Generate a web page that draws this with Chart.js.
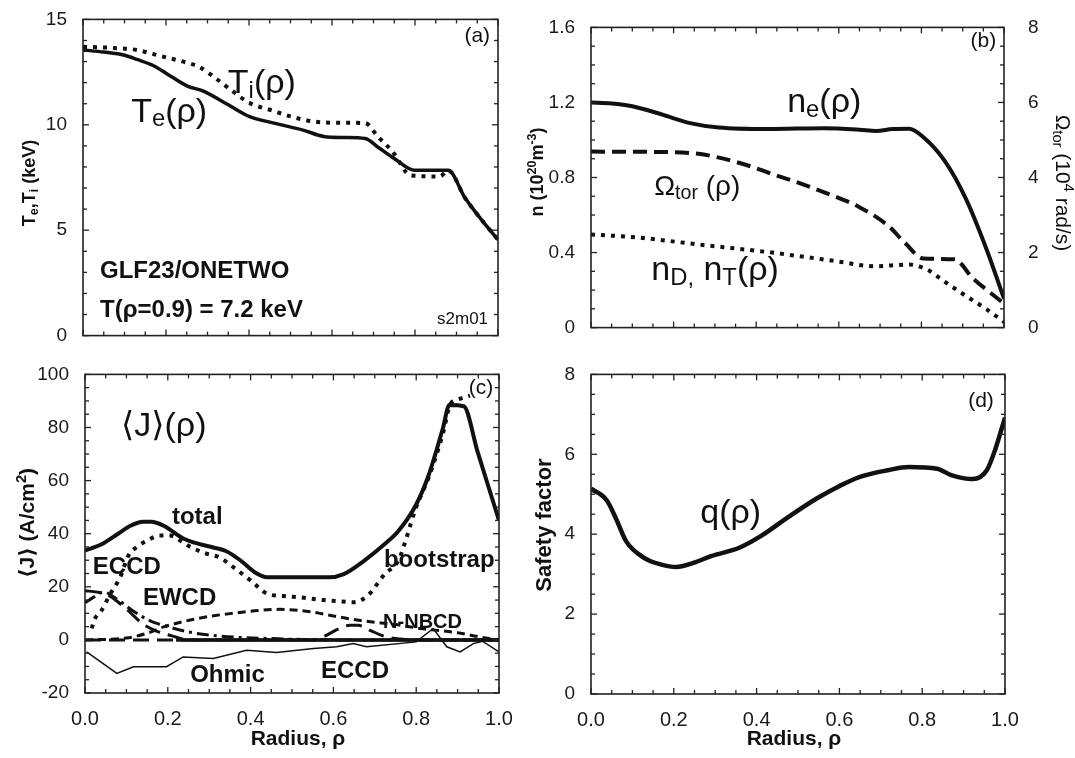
<!DOCTYPE html>
<html>
<head>
<meta charset="utf-8">
<script src="https://cdn.jsdelivr.net/npm/chart.js@4.4.1/dist/chart.umd.min.js"></script>
<style>
  html, body { margin: 0; padding: 0; background: #fff; }
  #wrap { position: relative; width: 1075px; height: 758px; overflow: hidden; }
  #wrap canvas { position: absolute; }
</style>
</head>
<body>
<div id="wrap">
  <canvas id="pa" width="520" height="355" style="left:0;top:0"></canvas>
  <canvas id="pb" width="555" height="355" style="left:520px;top:0"></canvas>
  <canvas id="pc" width="520" height="403" style="left:0;top:355px"></canvas>
  <canvas id="pd" width="555" height="403" style="left:520px;top:355px"></canvas>
</div>
<script>
const FONT = '"Liberation Sans", Arial, Helvetica, "DejaVu Sans", sans-serif';
const INK = '#111';

// (a) electron / ion temperature, keV
const rhoTe = [0, 0.05, 0.1, 0.13, 0.17, 0.2, 0.25, 0.29, 0.35, 0.4, 0.46, 0.53, 0.58, 0.63, 0.68, 0.71, 0.75, 0.8, 0.88, 0.92, 0.96, 1.0];
const te    = [13.55, 13.45, 13.3, 13.1, 12.8, 12.45, 11.85, 11.6, 10.95, 10.4, 10.08, 9.75, 9.45, 9.4, 9.35, 8.95, 8.4, 7.84, 7.84, 6.55, 5.5, 4.55];
const rhoTi = [0, 0.07, 0.13, 0.17, 0.21, 0.25, 0.28, 0.32, 0.36, 0.4, 0.46, 0.5, 0.55, 0.6, 0.68, 0.71, 0.745, 0.79, 0.86, 0.88, 0.92, 0.96, 1.0];
const ti    = [13.7, 13.65, 13.55, 13.35, 13.15, 12.95, 12.75, 12.2, 11.6, 11.05, 10.65, 10.4, 10.17, 10.1, 10.08, 9.45, 8.75, 7.6, 7.55, 7.84, 6.55, 5.5, 4.55];

// (b) densities (1e20 m^-3) and toroidal rotation (1e4 rad/s)
const rhoNe = [0, 0.05, 0.1, 0.17, 0.24, 0.31, 0.43, 0.565, 0.65, 0.69, 0.73, 0.77, 0.805, 0.856, 0.907, 0.959, 1.0];
const ne    = [1.2, 1.195, 1.18, 1.137, 1.09, 1.066, 1.058, 1.063, 1.055, 1.048, 1.058, 1.06, 1.015, 0.89, 0.69, 0.41, 0.154];
const rhoOm = [0, 0.17, 0.26, 0.31, 0.38, 0.445, 0.51, 0.58, 0.65, 0.72, 0.76, 0.805, 0.88, 0.925, 0.967, 1.0];
const omega = [4.69, 4.68, 4.63, 4.53, 4.32, 4.07, 3.83, 3.54, 3.21, 2.71, 2.26, 1.84, 1.82, 1.31, 0.93, 0.64];
const rhoNd = [0, 0.11, 0.26, 0.43, 0.6, 0.685, 0.77, 0.813, 0.856, 0.907, 0.959, 1.0];
const nd    = [0.496, 0.481, 0.443, 0.402, 0.352, 0.327, 0.336, 0.31, 0.245, 0.17, 0.096, 0.03];

// (c) current density components, A/cm^2
const rhoTot = [0, 0.04, 0.08, 0.11, 0.14, 0.16, 0.19, 0.24, 0.31, 0.34, 0.375, 0.41, 0.44, 0.54, 0.59, 0.625, 0.674, 0.724, 0.757, 0.8, 0.83, 0.865, 0.88, 0.915, 0.948, 1.0];
const jTot   = [33.6, 36, 40, 43, 44.5, 44.5, 43, 38, 34.8, 33.5, 30, 25.5, 23.6, 23.6, 23.6, 24.8, 29.8, 36.1, 41, 51, 62, 80, 88.5, 88, 71, 45];
const rhoBs  = [0.016, 0.024, 0.04, 0.06, 0.085, 0.105, 0.125, 0.15, 0.18, 0.205, 0.23, 0.255, 0.295, 0.326, 0.358, 0.4, 0.44, 0.48, 0.52, 0.575, 0.62, 0.65, 0.683, 0.724, 0.757, 0.8, 0.832, 0.865, 0.882, 0.9, 0.93];
const jBs    = [4.3, 8, 11.1, 17, 23.6, 31.8, 35, 37.4, 39.3, 39.3, 37.4, 35, 32.4, 31, 27.4, 22.4, 17.4, 16.5, 16, 15, 14.5, 14.2, 16.7, 24.8, 30, 50, 62, 78, 88.7, 90.5, 92];
const rhoEcA = [0, 0.03, 0.06, 0.1, 0.14, 0.17, 0.21, 0.25, 1.0];
const jEcA   = [18.5, 18, 16.5, 11.6, 6, 3.5, 1.5, 0, 0];
const rhoEw  = [0, 0.02, 0.045, 0.08, 0.12, 0.16, 0.2, 0.25, 0.32, 0.45, 0.6, 1.0];
const jEw    = [14, 16, 18, 15, 10.5, 7, 5, 3, 1.5, 0.5, 0, 0];
const rhoEcB = [0, 0.55, 0.58, 0.61, 0.64, 0.66, 0.69, 0.72, 0.76, 0.8, 1.0];
const jEcB   = [0, 0, 1.5, 4, 5.5, 5.5, 3.5, 1.5, 0.3, 0, 0];
const rhoNb  = [0, 0.1, 0.15, 0.19, 0.27, 0.35, 0.47, 0.55, 0.6, 0.68, 0.75, 0.81, 0.9, 0.95, 1.0];
const jNb    = [0, 0.7, 2.5, 4.9, 8, 9.9, 11.5, 10.5, 9, 7, 5.8, 4.3, 2.7, 1.2, 0];
const rhoOh  = [0.004, 0.077, 0.117, 0.197, 0.237, 0.31, 0.39, 0.463, 0.552, 0.608, 0.648, 0.68, 0.8, 0.841, 0.874, 0.906, 0.938, 0.96, 1.0];
const jOh    = [-4.5, -12.6, -10.1, -10.1, -6.4, -7, -3.9, -4.7, -3.2, -2.6, -1.4, -2.6, -0.75, 4.3, -2.6, -4.5, -1.4, -0.5, -4.5];
const rhoZero = [0.22, 1.0];
const jZero   = [0, 0];

// (d) safety factor
const rhoQ = [0, 0.038, 0.06, 0.085, 0.128, 0.17, 0.205, 0.247, 0.29, 0.358, 0.41, 0.478, 0.546, 0.597, 0.648, 0.717, 0.768, 0.836, 0.87, 0.922, 0.956, 0.977, 1.0];
const q    = [5.14, 4.85, 4.4, 3.82, 3.41, 3.24, 3.18, 3.28, 3.45, 3.66, 3.95, 4.44, 4.9, 5.19, 5.43, 5.6, 5.68, 5.64, 5.48, 5.38, 5.6, 6.14, 6.92];

const pts = (xs, ys) => xs.map((x, i) => ({ x: x, y: ys[i] }));

function line(xs, ys, width, dash, extra) {
  return Object.assign({
    data: pts(xs, ys),
    borderColor: INK,
    borderWidth: width,
    borderDash: dash || [],
    pointRadius: 0,
    fill: false,
    cubicInterpolationMode: 'monotone'
  }, extra || {});
}

// text with sub (1) / superscript (-1) pieces
function drawRich(ctx, parts, x, y, size, weight, align) {
  const fontFor = s => weight + ' ' + s + 'px ' + FONT;
  let total = 0;
  parts.forEach(([t, s]) => {
    ctx.font = fontFor(s ? size * 0.7 : size);
    total += ctx.measureText(t).width;
  });
  let cx = align === 'center' ? x - total / 2 : align === 'right' ? x - total : x;
  parts.forEach(([t, s]) => {
    ctx.font = fontFor(s ? size * 0.7 : size);
    const dy = s === 1 ? size * 0.14 : s === -1 ? -size * 0.4 : 0;
    ctx.fillText(t, cx, y + dy);
    cx += ctx.measureText(t).width;
  });
}

function eachTick(min, max, minor, major, fn) {
  const n = Math.round((max - min) / minor);
  for (let i = 0; i <= n; i++) {
    const v = min + i * minor;
    const r = v / major;
    fn(v, Math.abs(r - Math.round(r)) < 1e-6);
  }
}

function seg(ctx, x1, y1, x2, y2) {
  ctx.beginPath(); ctx.moveTo(x1, y1); ctx.lineTo(x2, y2); ctx.stroke();
}

// frame, inward ticks on all four sides, in-plot notes and axis titles
const decor = {
  id: 'decor',
  afterDraw(chart, args, o) {
    const ctx = chart.ctx, a = chart.chartArea, sx = chart.scales.x;
    const yl = chart.scales.y, yr = chart.scales.y2 || yl;
    ctx.save();
    ctx.strokeStyle = '#222';
    ctx.lineWidth = 1.6;
    ctx.strokeRect(a.left, a.top, a.right - a.left, a.bottom - a.top);
    ctx.lineWidth = 1.3;
    eachTick(0, 1, 0.05, 0.2, (v, major) => {
      const px = sx.getPixelForValue(v), len = major ? 6 : 4;
      seg(ctx, px, a.bottom, px, a.bottom - len);
      seg(ctx, px, a.top, px, a.top + len);
    });
    eachTick(yl.min, yl.max, o.yMinor, o.yMajor, (v, major) => {
      const py = yl.getPixelForValue(v), len = major ? 6 : 4;
      seg(ctx, a.left, py, a.left + len, py);
    });
    const rMinor = chart.scales.y2 ? o.y2Minor : o.yMinor;
    const rMajor = chart.scales.y2 ? o.y2Major : o.yMajor;
    eachTick(yr.min, yr.max, rMinor, rMajor, (v, major) => {
      const py = yr.getPixelForValue(v), len = major ? 6 : 4;
      seg(ctx, a.right, py, a.right - len, py);
    });

    ctx.fillStyle = INK;
    ctx.textBaseline = 'alphabetic';
    ctx.textAlign = 'left';
    (o.notes || []).forEach(n => {
      const ys = chart.scales[n.axis || 'y'];
      drawRich(ctx, n.parts, sx.getPixelForValue(n.x), ys.getPixelForValue(n.y),
        n.size, n.weight || 'normal', n.align || 'left');
    });
    (o.titles || []).forEach(t => {
      ctx.save();
      ctx.translate(t.x, t.y);
      ctx.rotate(t.rot || 0);
      drawRich(ctx, t.parts, 0, 0, t.size, t.weight || 'bold', 'center');
      ctx.restore();
    });
    ctx.restore();
  }
};

function makePanel(id, box, datasets, yAxes, decorOpts, showX) {
  const scales = {
    x: {
      type: 'linear', min: 0, max: 1,
      grid: { display: false }, border: { display: false },
      ticks: {
        display: showX, stepSize: 0.2, padding: 6, color: '#1a1a1a',
        font: { family: FONT, size: 20 },
        callback: v => v.toFixed(1)
      },
      afterFit: s => { s.height = box.bottom; }
    }
  };
  Object.keys(yAxes).forEach(k => {
    const c = yAxes[k];
    scales[k] = {
      type: 'linear', position: c.position || 'left', min: c.min, max: c.max,
      grid: { display: false }, border: { display: false },
      ticks: {
        stepSize: c.step, padding: c.padding || 8, color: '#1a1a1a',
        font: { family: FONT, size: 19 },
        callback: c.format || (v => String(v))
      },
      afterFit: s => { s.width = c.width; }
    };
  });
  return new Chart(document.getElementById(id), {
    type: 'line',
    data: { datasets: datasets },
    options: {
      responsive: false,
      animation: false,
      events: [],
      layout: { padding: { top: box.top, right: box.right, left: 0, bottom: 0 } },
      plugins: { legend: { display: false }, tooltip: { enabled: false }, decor: decorOpts },
      scales: scales
    },
    plugins: [decor]
  });
}

const dotted = [4, 6];

// (a)
makePanel('pa', { top: 17, right: 22, bottom: 16 },
  [
    line(rhoTe, te, 3.5),
    line(rhoTi, ti, 4, dotted)
  ],
  { y: { min: 0, max: 15, step: 5, width: 83 } },
  {
    yMinor: 1, yMajor: 5,
    notes: [
      { x: 0.349, y: 11.5, size: 34, parts: [['T', 0], ['i', 1], ['(ρ)', 0]] },
      { x: 0.116, y: 10.15, size: 34, parts: [['T', 0], ['e', 1], ['(ρ)', 0]] },
      { x: 0.041, y: 2.75, size: 24, weight: 'bold', parts: [['GLF23/ONETWO', 0]] },
      { x: 0.041, y: 0.885, size: 24, weight: 'bold', parts: [['T(ρ=0.9) = 7.2 keV', 0]] },
      { x: 0.976, y: 0.56, size: 17, align: 'right', parts: [['s2m01', 0]] },
      { x: 0.981, y: 13.93, size: 21, align: 'right', parts: [['(a)', 0]] }
    ],
    titles: [
      { x: 35, y: 183, rot: -Math.PI / 2, size: 18,
        parts: [['T', 0], ['e', 1], [',T', 0], ['i', 1], [' (keV)', 0]] }
    ]
  }, false);

// (b)
makePanel('pb', { top: 17, right: 0, bottom: 16 },
  [
    line(rhoNe, ne, 4),
    line(rhoOm, omega, 4, [14, 7], { yAxisID: 'y2' }),
    line(rhoNd, nd, 4, dotted)
  ],
  {
    y: { min: 0, max: 1.6, step: 0.4, width: 71, format: v => v === 0 ? '0' : v.toFixed(1) },
    y2: { min: 0, max: 8, step: 2, width: 71, position: 'right', padding: 16 }
  },
  {
    yMinor: 0.1, yMajor: 0.4, y2Minor: 0.5, y2Major: 2,
    notes: [
      { x: 0.475, y: 1.148, size: 34, parts: [['n', 0], ['e', 1], ['(ρ)', 0]] },
      { x: 0.153, y: 0.706, size: 28, parts: [['Ω', 0], ['tor', 1], [' (ρ)', 0]] },
      { x: 0.146, y: 0.253, size: 34, parts: [['n', 0], ['D,', 1], [' n', 0], ['T', 1], ['(ρ)', 0]] },
      { x: 0.981, y: 1.496, size: 21, align: 'right', parts: [['(b)', 0]] }
    ],
    titles: [
      { x: 23, y: 172, rot: -Math.PI / 2, size: 18,
        parts: [['n (10', 0], ['20', -1], ['m', 0], ['-3', -1], [')', 0]] },
      { x: 536, y: 183, rot: Math.PI / 2, size: 21, weight: 'normal',
        parts: [['Ω', 0], ['tor', 1], [' (10', 0], ['4', -1], [' rad/s)', 0]] }
    ]
  }, false);

// (c)
makePanel('pc', { top: 18, right: 21, bottom: 65 },
  [
    line(rhoZero, jZero, 3.5),
    line(rhoOh, jOh, 1.5, [], { cubicInterpolationMode: 'default', tension: 0 }),
    line(rhoEcB, jEcB, 3, [16, 8]),
    line(rhoNb, jNb, 3, [8, 5]),
    line(rhoEw, jEw, 3, [12, 5, 3, 5]),
    line(rhoEcA, jEcA, 3, [16, 8]),
    line(rhoBs, jBs, 4, dotted),
    line(rhoTot, jTot, 4)
  ],
  { y: { min: -20, max: 100, step: 20, width: 85 } },
  {
    yMinor: 5, yMajor: 20,
    notes: [
      { x: 0.087, y: 76.8, size: 34, parts: [['⟨J⟩(ρ)', 0]] },
      { x: 0.21, y: 43.8, size: 24, weight: 'bold', parts: [['total', 0]] },
      { x: 0.722, y: 27.3, size: 24, weight: 'bold', parts: [['bootstrap', 0]] },
      { x: 0.019, y: 25, size: 24, weight: 'bold', parts: [['ECCD', 0]] },
      { x: 0.14, y: 13, size: 24, weight: 'bold', parts: [['EWCD', 0]] },
      { x: 0.72, y: 4.4, size: 20, weight: 'bold', parts: [['N-NBCD', 0]] },
      { x: 0.254, y: -15.9, size: 24, weight: 'bold', parts: [['Ohmic', 0]] },
      { x: 0.57, y: -14.4, size: 24, weight: 'bold', parts: [['ECCD', 0]] },
      { x: 0.986, y: 92.5, size: 21, align: 'right', parts: [['(c)', 0]] }
    ],
    titles: [
      { x: 34, y: 168, rot: -Math.PI / 2, size: 21,
        parts: [['⟨J⟩ (A/cm', 0], ['2', -1], [')', 0]] },
      { x: 298, y: 390, size: 21, parts: [['Radius, ρ', 0]] }
    ]
  }, true);

// (d)
makePanel('pd', { top: 17, right: 70, bottom: 64 },
  [ line(rhoQ, q, 4.5) ],
  { y: { min: 0, max: 8, step: 2, width: 71 } },
  {
    yMinor: 0.5, yMajor: 2,
    notes: [
      { x: 0.264, y: 4.28, size: 34, parts: [['q(ρ)', 0]] },
      { x: 0.973, y: 7.18, size: 21, align: 'right', parts: [['(d)', 0]] }
    ],
    titles: [
      { x: 31, y: 170, rot: -Math.PI / 2, size: 22, parts: [['Safety factor', 0]] },
      { x: 274, y: 390, size: 21, parts: [['Radius, ρ', 0]] }
    ]
  }, true);
</script>
</body>
</html>
